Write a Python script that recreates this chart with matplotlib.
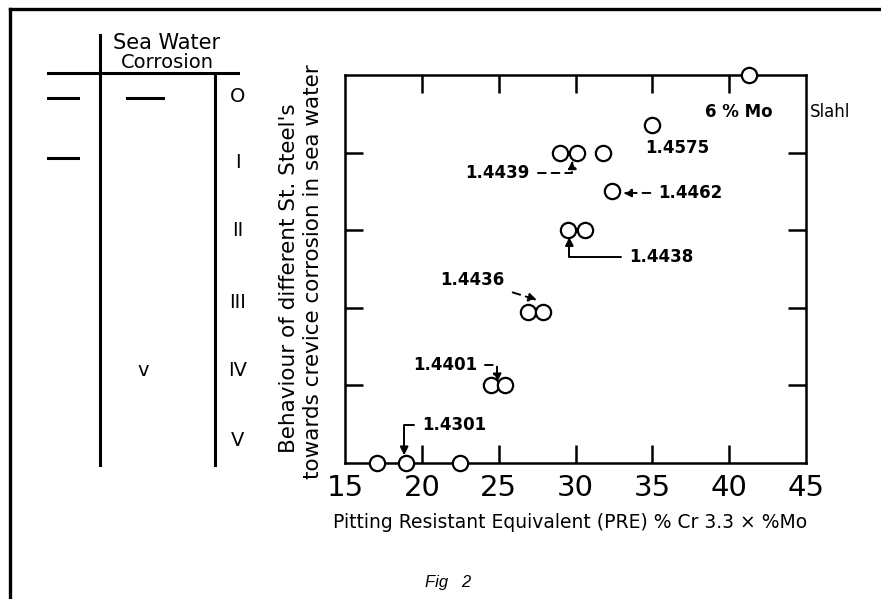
import matplotlib
matplotlib.use("Agg")
import matplotlib.pyplot as plt
from matplotlib.lines import Line2D

W, H = 881, 599

# PRE value vs. crevice corrosion class (0 = best ... 5 = worst)
pre = [41.3, 35.0, 29.0, 30.1, 31.8, 32.4, 29.5, 30.6, 26.9, 27.9, 24.5, 25.4, 17.1, 19.0, 22.5]
level = [0, 0.64, 1.0, 1.0, 1.0, 1.5, 2.0, 2.0, 3.05, 3.05, 4.0, 4.0, 5, 5, 5]

x_ticks = [15, 20, 25, 30, 35, 40, 45]
y_ticks = [1, 2, 3, 4]
levels_roman = ["O", "I", "II", "III", "IV", "V"]

# steel grade labels: (text, text x, text y, arrow tip x, arrow tip y, connection, dashed)
grades = [
    ("1.4439", 24.9, 1.26, 29.8, 1.10, "angle,angleA=0,angleB=90", True),
    ("1.4462", 37.5, 1.52, 33.1, 1.52, "arc3", True),
    ("1.4438", 35.6, 2.35, 29.6, 2.09, "angle,angleA=0,angleB=90", False),
    ("1.4436", 23.3, 2.64, 27.5, 2.90, "arc3", True),
    ("1.4401", 21.5, 3.74, 24.9, 3.96, "angle,angleA=0,angleB=90", True),
    ("1.4301", 22.1, 4.51, 18.85, 4.90, "angle,angleA=0,angleB=90", False),
]


def fx(x):
    return x / W


def fy(y):
    return 1 - y / H


plt.rcParams['font.family'] = ['DejaVu Sans']
fig = plt.figure(figsize=(W / 100, H / 100), dpi=100)
ax = fig.add_axes([fx(345), fy(463), fx(806) - fx(345), fy(75) - fy(463)])

ax.plot(pre, level, linestyle="none", marker="o", markersize=11,
        markerfacecolor="white", markeredgecolor="black", markeredgewidth=1.6,
        clip_on=False, zorder=5)

ax.set_xlim(15, 45)
ax.set_ylim(5, 0)
ax.set_xticks(x_ticks)
ax.set_xticklabels([str(v) for v in x_ticks], fontsize=21)
ax.set_yticks(y_ticks)
ax.set_yticklabels([])
ax.tick_params(direction="in", length=13, width=1.8, top=True, right=True,
               pad=8, colors="black")
for t in ax.xaxis.get_major_ticks():
    if t.get_loc() in (15, 45):
        t.tick1line.set_visible(False)
        t.tick2line.set_visible(False)
for s in ax.spines.values():
    s.set_linewidth(1.8)

for name, tx, ty, ax_, ay, conn, dashed in grades:
    ax.annotate(name, xy=(ax_, ay), xytext=(tx, ty), textcoords="data",
                ha="center", va="center", fontsize=12, fontweight="bold",
                arrowprops=dict(arrowstyle="-|>", color="black", lw=1.4,
                                linestyle=(0, (4, 3)) if dashed else "-",
                                connectionstyle=conn, shrinkA=4, shrinkB=0,
                                mutation_scale=12))

ax.text(40.6, 0.48, "6 % Mo", ha="center", va="center", fontsize=12, fontweight="bold")
ax.text(36.6, 0.94, "1.4575", ha="center", va="center", fontsize=12, fontweight="bold")
fig.text(fx(810), fy(112), "Slahl", ha="left", va="center", fontsize=12)

# axis titles
fig.text(fx(570), fy(523), "Pitting Resistant Equivalent (PRE) % Cr 3.3 \u00d7 %Mo",
         ha="center", va="center", fontsize=13.5)
fig.text(fx(289), fy(278), "Behaviour of different St. Steel's", rotation=90,
         ha="center", va="center", fontsize=15.5)
fig.text(fx(313), fy(272), "towards crevice corrosion in sea water", rotation=90,
         ha="center", va="center", fontsize=15.5)

# left hand comparison table
lw = 2.2
for (x0, y0, x1, y1) in [(100, 35, 100, 465), (215, 75, 215, 465), (48, 73, 238, 73),
                         (48, 98, 78, 98), (127, 98, 163, 98), (48, 158, 78, 158)]:
    fig.add_artist(Line2D([fx(x0), fx(x1)], [fy(y0), fy(y1)], color="black", lw=lw))
fig.text(fx(167), fy(43), "Sea Water", ha="center", va="center", fontsize=15)
fig.text(fx(167), fy(62), "Corrosion", ha="center", va="center", fontsize=14)
fig.text(fx(143), fy(370), "v", ha="center", va="center", fontsize=14)
for lab, yy in zip(levels_roman, [97, 163, 230, 303, 370, 440]):
    fig.text(fx(238), fy(yy), lab, ha="center", va="center", fontsize=14)

# page frame and caption
fig.add_artist(Line2D([fx(10), fx(10)], [fy(9), fy(599)], color="black", lw=2.4))
fig.add_artist(Line2D([fx(10), fx(881)], [fy(9), fy(9)], color="black", lw=2.4))
fig.text(fx(425), fy(583), "Fig   2", ha="left", va="center", fontsize=12,
         style="italic", family="Liberation Sans")

fig.savefig("out.png", dpi=100)
